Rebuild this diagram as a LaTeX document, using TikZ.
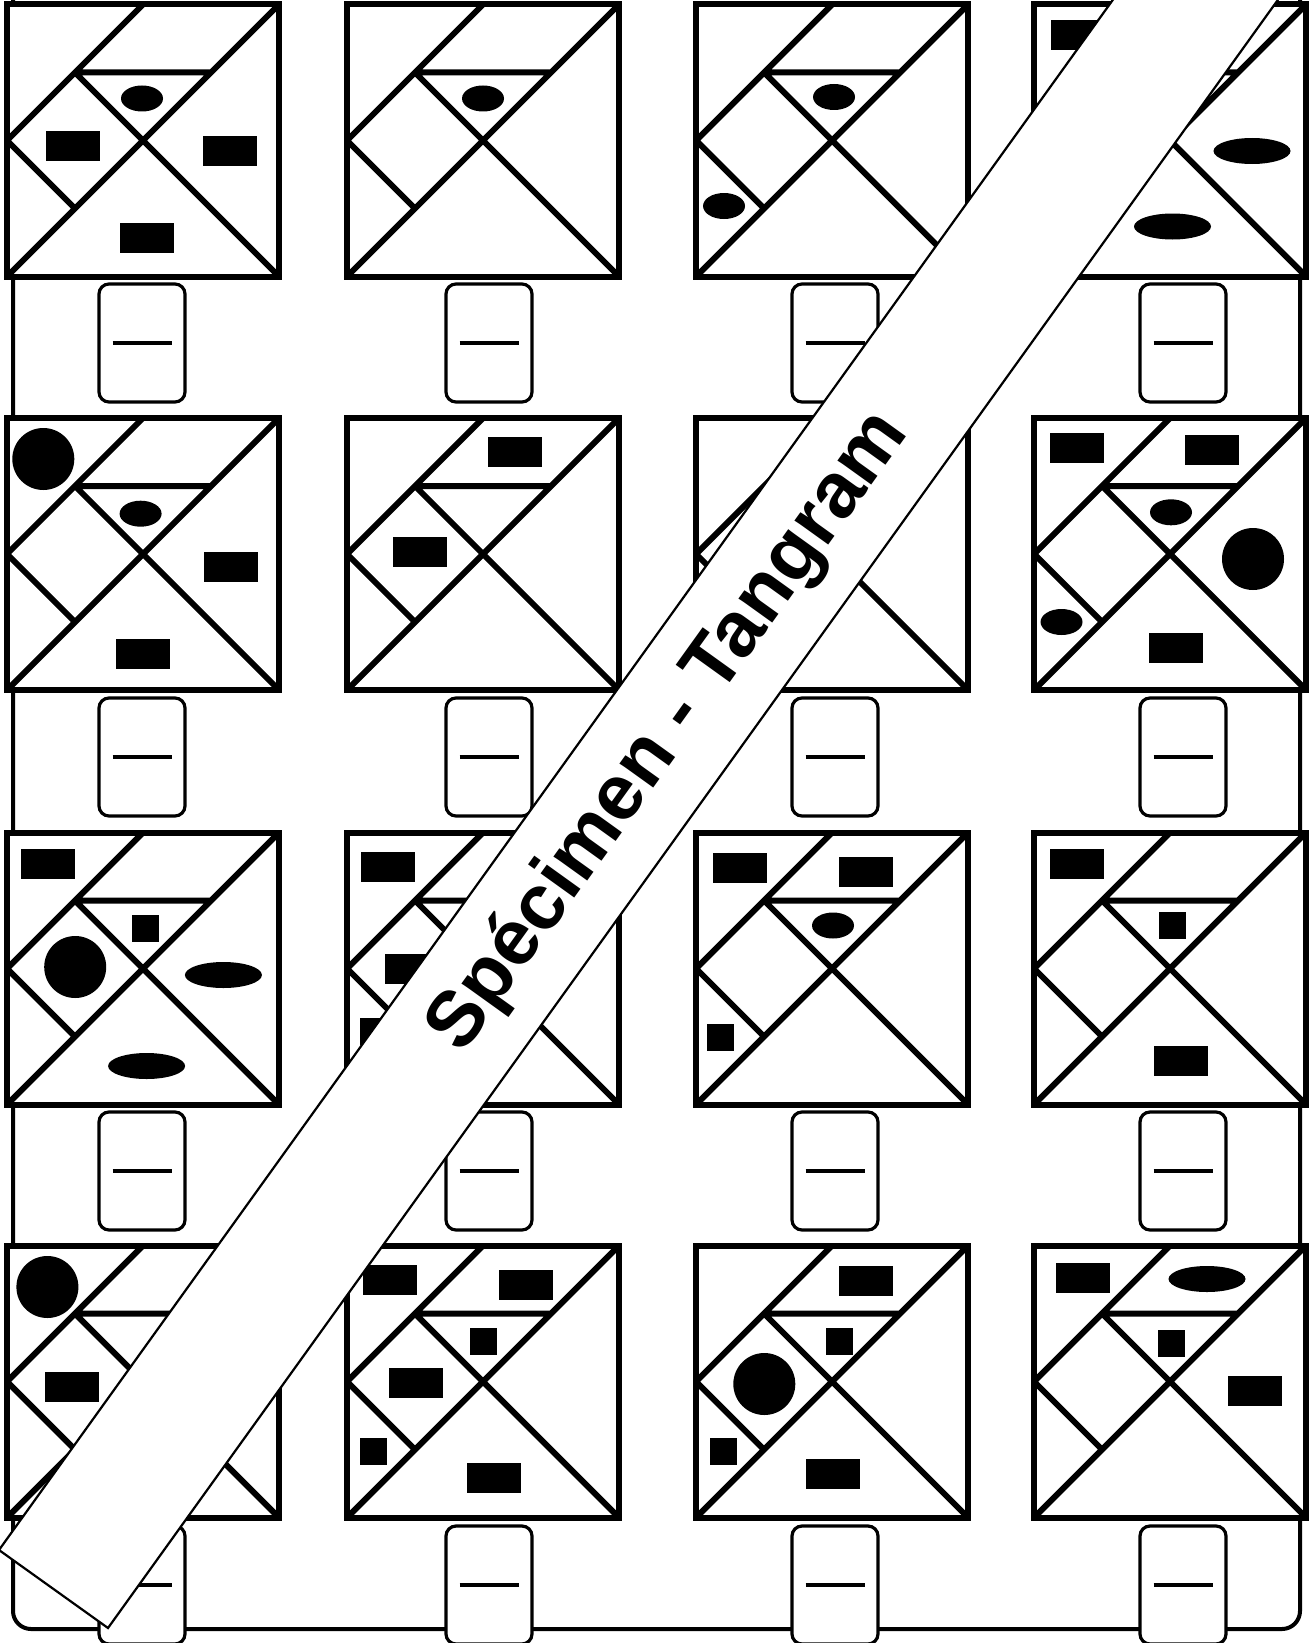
\documentclass[tikz,border=0pt]{standalone}
\usepackage{fontspec}
\setmainfont{Liberation Sans}
\begin{document}
\begin{tikzpicture}[x=1pt,y=-1pt,
  tline/.style={line width=6pt},
  frameline/.style={line width=4pt, rounded corners=18pt},
  ansbox/.style={draw, fill=white, line width=3.2pt, rounded corners=10pt},
  ansline/.style={line width=3.2pt},
  banner/.style={fill=white, draw=black, line width=2.2pt}]
\useasboundingbox (0,0) rectangle (1314,1643);
\clip (0,0) rectangle (1314,1643);
\newcommand\tgTile[2]{%
 \begin{scope}[shift={(#1,#2)}]
  \fill[white] (0,0) rectangle (272,272);
  \draw[tline] (0,0) rectangle (272,272);
  \draw[tline] (0,272)--(272,0) (68,68)--(272,272) (0,136)--(136,0) (68,68)--(204,68) (0,136)--(68,204);
 \end{scope}}
\newcommand\tgRect[2]{\fill (#1-27,#2-15) rectangle (#1+27,#2+15);}
\newcommand\tgSq[2]{\fill (#1-13.5,#2-13.5) rectangle (#1+13.5,#2+13.5);}
\newcommand\tgEl[2]{\fill (#1,#2) ellipse [x radius=21pt, y radius=13pt];}
\newcommand\tgWide[2]{\fill (#1,#2) ellipse [x radius=38.5pt, y radius=13pt];}
\newcommand\tgCirc[2]{\fill (#1,#2) circle [radius=31pt];}
\newcommand\tgBox[2]{%
  \draw[ansbox] (#1-43,#2-59) rectangle (#1+43,#2+59);
  \draw[ansline] (#1-29.5,#2) -- (#1+29.5,#2);}
% frame
\draw[frameline] (13,-40) rectangle (1300,1629);
% tiles
\foreach \cx in {7,347,696,1034}{\foreach \cy in {4.5,418,832.5,1245.5}{\tgTile{\cx}{\cy}}}
% decorations
\begin{scope}[shift={(7,4.5)}]\tgEl{135}{94}\tgRect{66}{141.5}\tgRect{223}{146.5}\tgRect{140}{233.5}\end{scope}
\begin{scope}[shift={(347,4.5)}]\tgEl{136}{94}\end{scope}
\begin{scope}[shift={(696,4.5)}]\tgEl{138}{92.5}\tgEl{28}{201.5}\end{scope}
\begin{scope}[shift={(1034,4.5)}]\tgRect{44}{31}\tgWide{218}{146.5}\tgWide{138.5}{222}\end{scope}
\begin{scope}[shift={(7,418)}]\tgCirc{36.3}{41}\tgEl{133.6}{95.7}\tgRect{223.7}{149}\tgRect{135.5}{236}\end{scope}
\begin{scope}[shift={(347,418)}]\tgRect{167.5}{33.7}\tgRect{72.7}{134}\end{scope}
\begin{scope}[shift={(1034,418)}]\tgRect{43}{30}\tgRect{178}{32}\tgEl{137}{94.3}\tgCirc{219}{141}\tgEl{27.5}{204}\tgRect{142}{230}\end{scope}
\begin{scope}[shift={(7,832.5)}]\tgRect{40.5}{31.5}\tgSq{138.4}{96}\tgCirc{68.2}{134.5}\tgWide{216.4}{142.5}\tgWide{139.6}{233.5}\end{scope}
\begin{scope}[shift={(347,832.5)}]\tgRect{40.5}{34.5}\tgRect{65}{136.5}\tgSq{26.5}{199}\end{scope}
\begin{scope}[shift={(696,832.5)}]\tgRect{43.5}{35}\tgRect{169.7}{39}\tgEl{137}{93}\tgSq{24.5}{205}\end{scope}
\begin{scope}[shift={(1034,832.5)}]\tgRect{43}{31.4}\tgSq{138.5}{93.4}\tgRect{146.5}{228}\end{scope}
\begin{scope}[shift={(7,1245.5)}]\tgCirc{40.4}{41.5}\tgRect{65.2}{141.5}\end{scope}
\begin{scope}[shift={(347,1245.5)}]\tgRect{43}{34.2}\tgRect{178.7}{39.5}\tgSq{136}{95.5}\tgRect{69}{137.8}\tgSq{26}{205.5}\tgRect{147}{232}\end{scope}
\begin{scope}[shift={(696,1245.5)}]\tgRect{170}{35.8}\tgSq{143}{95.5}\tgCirc{68.3}{138.5}\tgSq{27}{205.5}\tgRect{136.5}{228.5}\end{scope}
\begin{scope}[shift={(1034,1245.5)}]\tgRect{48.5}{32.2}\tgWide{173}{33.5}\tgSq{137}{97.8}\tgRect{221}{145.2}\end{scope}
% answer boxes
\foreach \bx in {142,489,835,1183}{\foreach \by in {343,757,1171,1585}{\tgBox{\bx}{\by}}}
% banner
\draw[banner] (-1,1550) -- (108,1628) -- (1333.4,-77.4) -- (1224.4,-155.4) -- cycle;
\node[rotate=54.3, inner sep=0pt] (bannertext) at (669,732)
  {\bfseries\fontsize{78.5}{80}\selectfont Spécimen - Tangram};
\end{tikzpicture}
\end{document}
